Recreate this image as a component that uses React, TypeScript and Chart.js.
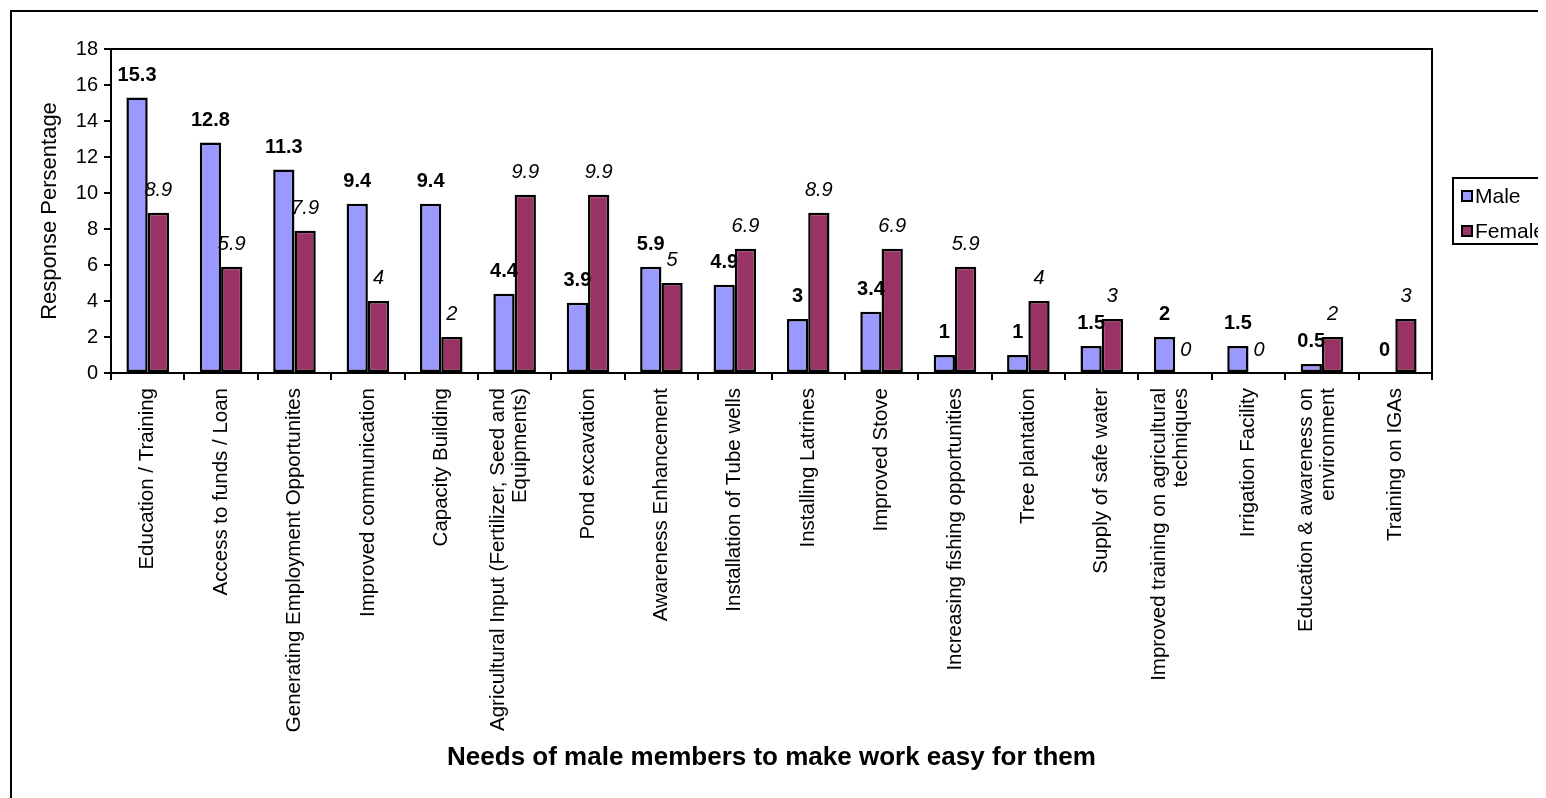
import React, { useEffect, useRef } from "react";
import { Chart, registerables } from "chart.js";

Chart.register(...registerables);

const categories: (string | string[])[] = [
  "Education / Training",
  "Access to funds / Loan",
  "Generating Employment Opportunites",
  "Improved communication",
  "Capacity Building",
  ["Agricultural Input (Fertilizer, Seed and", "Equipments)"],
  "Pond excavation",
  "Awareness Enhancement",
  "Installation of Tube wells",
  "Installing Latrines",
  "Improved Stove",
  "Increasing fishing opportunities",
  "Tree plantation",
  "Supply of safe water",
  ["Improved training on agricultural", "techniques"],
  "Irrigation Facility",
  ["Education & awareness on", "environment"],
  "Training on IGAs",
];

const maleValues = [15.3, 12.8, 11.3, 9.4, 9.4, 4.4, 3.9, 5.9, 4.9, 3, 3.4, 1, 1, 1.5, 2, 1.5, 0.5, 0];
const femaleValues = [8.9, 5.9, 7.9, 4, 2, 9.9, 9.9, 5, 6.9, 8.9, 6.9, 5.9, 4, 3, 0, 0, 2, 3];

const seriesNames = ["Male", "Female"];
const seriesColors = ["#9999FF", "#993366"];

const yMin = 0;
const yMax = 18;
const yStep = 2;

const xTitle = "Needs of male members to make work easy for them";
const yTitle = "Response Persentage";

const FONT = "'Liberation Sans', Arial, sans-serif";

const framePlugin = {
  id: "framePlugin",
  beforeDraw(chart: any) {
    const ctx = chart.ctx;
    ctx.save();
    ctx.fillStyle = "#fff";
    ctx.fillRect(0, 0, chart.width, chart.height);
    ctx.strokeStyle = "#000";
    ctx.lineWidth = 2;
    ctx.strokeRect(3, 3, chart.width + 50, chart.height + 50);
    ctx.restore();
  },
  afterDraw(chart: any) {
    const ctx = chart.ctx;
    const a = chart.chartArea;
    ctx.save();
    ctx.strokeStyle = "#000";
    ctx.lineWidth = 2;
    ctx.strokeRect(a.left, a.top, a.right - a.left, a.bottom - a.top);

    // category labels (rotated, multi-line blocks centred on the tick)
    const xs = chart.scales.x;
    const lineH = 22;
    ctx.fillStyle = "#000";
    ctx.font = `20.5px ${FONT}`;
    ctx.textAlign = "right";
    ctx.textBaseline = "middle";
    chart.data.labels.forEach((lab: any, i: number) => {
      const lines: string[] = Array.isArray(lab) ? lab : [lab];
      const px = xs.getPixelForTick(i);
      const shift = lines.length > 1 ? -5 : 0;
      ctx.save();
      ctx.translate(px + shift, a.bottom + 15);
      ctx.rotate(-Math.PI / 2);
      lines.forEach((ln, li) => {
        const off = (li - (lines.length - 1) / 2) * lineH;
        ctx.fillText(ln, 0, off);
      });
      ctx.restore();
    });

    // legend
    const lx = 1445;
    const ly = 170;
    ctx.lineWidth = 2;
    ctx.strokeStyle = "#000";
    ctx.fillStyle = "#fff";
    ctx.fillRect(lx, ly, 200, 66);
    ctx.strokeRect(lx, ly, 200, 66);
    const rows = [188, 223];
    chart.data.datasets.forEach((ds: any, i: number) => {
      const cy = rows[i];
      ctx.fillStyle = ds.backgroundColor;
      ctx.fillRect(1454, cy - 5, 10, 10);
      ctx.strokeRect(1454, cy - 5, 10, 10);
      ctx.fillStyle = "#000";
      ctx.font = `21px ${FONT}`;
      ctx.textAlign = "left";
      ctx.textBaseline = "middle";
      ctx.fillText(ds.label, 1467, cy + 1);
    });
    ctx.restore();
  },
};

const valueLabelPlugin = {
  id: "valueLabelPlugin",
  afterDatasetsDraw(chart: any) {
    const ctx = chart.ctx;
    ctx.save();
    ctx.fillStyle = "#000";
    ctx.textAlign = "center";
    ctx.textBaseline = "alphabetic";
    chart.data.datasets.forEach((ds: any, di: number) => {
      const meta = chart.getDatasetMeta(di);
      ctx.font = di === 0 ? `bold 20px ${FONT}` : `italic 20px ${FONT}`;
      meta.data.forEach((bar: any, i: number) => {
        const v = ds.data[i];
        ctx.fillText(String(v), bar.x, bar.y - 17);
      });
    });
    ctx.restore();
  },
};

export default function App() {
  const canvasRef = useRef<HTMLCanvasElement | null>(null);

  useEffect(() => {
    document.documentElement.style.overflow = "hidden";
    document.body.style.overflow = "hidden";
    const canvas = canvasRef.current;
    if (!canvas) return;
    Chart.defaults.color = "#000";
    Chart.defaults.font.family = FONT;
    const chart = new Chart(canvas, {
      type: "bar",
      data: {
        labels: categories,
        datasets: [
          {
            label: seriesNames[0],
            data: maleValues,
            backgroundColor: seriesColors[0],
            borderColor: "#000",
            borderWidth: 2.5,
            borderSkipped: false,
          },
          {
            label: seriesNames[1],
            data: femaleValues,
            backgroundColor: seriesColors[1],
            borderColor: "#000",
            borderWidth: 2.5,
            borderSkipped: false,
          },
        ],
      },
      options: {
        animation: false,
        responsive: false,
        maintainAspectRatio: false,
        layout: { padding: { left: 20, top: 41, right: 176, bottom: 35 } },
        datasets: {
          bar: { categoryPercentage: 0.58, barPercentage: 1.0 },
        },
        plugins: {
          legend: { display: false },
          tooltip: { enabled: false },
          title: { display: false },
        },
        scales: {
          x: {
            offset: true,
            grid: {
              offset: true,
              drawOnChartArea: false,
              drawTicks: true,
              tickLength: 7,
              color: "#000",
              lineWidth: 2,
            },
            border: { display: false },
            ticks: {
              display: false,
              autoSkip: false,
            },
            title: {
              display: true,
              text: xTitle,
              color: "#000",
              font: { size: 26, weight: "bold", family: FONT },
              padding: { top: 0, bottom: 0 },
            },
            afterFit(scale: any) {
              scale.height = 400;
            },
          },
          y: {
            min: yMin,
            max: yMax,
            grid: {
              drawOnChartArea: false,
              drawTicks: true,
              tickLength: 7,
              color: "#000",
              lineWidth: 2,
            },
            border: { display: false },
            ticks: {
              stepSize: yStep,
              padding: 6,
              color: "#000",
              font: { size: 20, family: FONT },
            },
            title: {
              display: true,
              text: yTitle,
              color: "#000",
              font: { size: 22, family: FONT },
              padding: { top: 9, bottom: 0 },
            },
            afterFit(scale: any) {
              scale.width = 83;
            },
          },
        },
      },
      plugins: [framePlugin, valueLabelPlugin],
    } as any);
    return () => chart.destroy();
  }, []);

  return (
    <div style={{ width: 1538, height: 790, overflow: "hidden", position: "relative" }}>
      <canvas ref={canvasRef} width={1600} height={800} style={{ display: "block" }} />
    </div>
  );
}
